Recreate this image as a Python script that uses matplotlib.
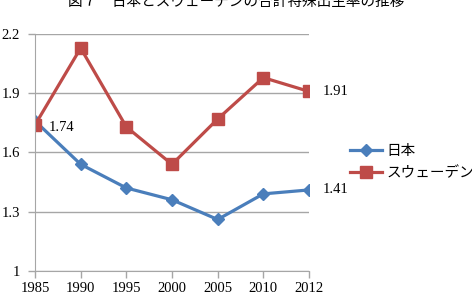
import matplotlib.pyplot as plt
import numpy as np

years = ['1985', '1990', '1995', '2000', '2005', '2010', '2012']
japan = [1.76, 1.54, 1.42, 1.36, 1.26, 1.39, 1.41]
sweden = [1.74, 2.13, 1.73, 1.54, 1.77, 1.98, 1.91]
yticks = [1.0, 1.3, 1.6, 1.9, 2.2]
ytick_labels = ['1', '1.3', '1.6', '1.9', '2.2']

W, H = 472, 297
serif = ['Liberation Serif', 'Noto Sans CJK JP']
cjk = ['Noto Sans CJK JP', 'DejaVu Sans']

fig = plt.figure(figsize=(W / 100, H / 100), dpi=100)
ax = fig.add_axes([35 / W, (H - 270.7) / H, (309 - 35) / W, (270.7 - 34.3) / H])

x = np.arange(len(years))
ax.plot(x, japan, color='#4A7EBB', lw=2.3, marker='D', ms=6.5, label='日本')
ax.plot(x, sweden, color='#BE4B48', lw=2.3, marker='s', ms=8.5, label='スウェーデン')

ax.set_xlim(0, len(years) - 1)
ax.set_ylim(1.0, 2.2)
ax.set_xticks(x)
ax.set_xticklabels(years, family=serif, fontsize=10.5)
ax.set_yticks(yticks)
ax.set_yticklabels(ytick_labels, family=serif, fontsize=10.5)
ax.yaxis.grid(True, color='#A6A6A6', lw=1)
ax.set_axisbelow(True)
for s in ['top', 'right']:
    ax.spines[s].set_visible(False)
for s in ['left', 'bottom']:
    ax.spines[s].set_color('#A6A6A6')
ax.tick_params(axis='both', direction='out', length=5, color='#A6A6A6', width=1, pad=3)
ax.tick_params(axis='y', pad=6)

# data labels
ax.annotate('1.74', (0, sweden[0]), xytext=(10, -2), textcoords='offset points',
            va='center', ha='left', family=serif, fontsize=10.5)
ax.annotate('1.91', (6, sweden[6]), xytext=(10, 0), textcoords='offset points',
            va='center', ha='left', family=serif, fontsize=10.5)
ax.annotate('1.41', (6, japan[6]), xytext=(10, 0), textcoords='offset points',
            va='center', ha='left', family=serif, fontsize=10.5)

ax.legend(loc='center left', bbox_to_anchor=(344 / W, (H - 162.5) / H),
          bbox_transform=fig.transFigure, frameon=False,
          prop={'family': cjk, 'size': 10.5}, handlelength=2.2,
          handletextpad=0.3, labelspacing=0.55, borderaxespad=0)

fig.text(0.5, 1.0 - 2 / H, '図７　日本とスウェーデンの合計特殊出生率の推移',
         ha='center', va='center', family=cjk, fontsize=10.5)

fig.savefig('out.png', dpi=100)
